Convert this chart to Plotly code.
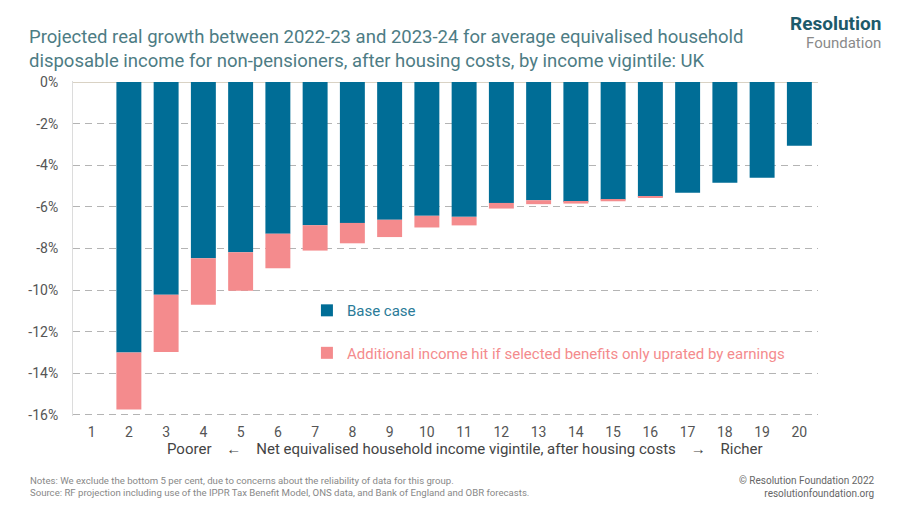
import plotly.graph_objects as go

# vigintiles 1-20 (bottom 5% excluded)
vigintiles = [str(i) for i in range(1, 21)]
base_case = [None, -13.0, -10.22, -8.47, -8.18, -7.29, -6.88, -6.77, -6.62, -6.43,
             -6.48, -5.81, -5.68, -5.76, -5.65, -5.52, -5.32, -4.84, -4.6, -3.06]
extra_hit = [None, -2.74, -2.76, -2.23, -1.85, -1.66, -1.22, -0.98, -0.83, -0.56,
             -0.41, -0.27, -0.19, -0.08, -0.08, -0.04, 0, 0, 0, 0]
y_ticks = [0, -2, -4, -6, -8, -10, -12, -14, -16]
y_labels = [f"{t}%" for t in y_ticks]

BLUE = "#006d96"
PINK = "#f48b8d"
FONT = "Roboto"
SP = "\u00a0" * 4

fig = go.Figure()
fig.add_trace(go.Bar(
    x=vigintiles, y=base_case, name="Base case",
    marker=dict(color=BLUE, line=dict(width=0)),
    legendgroup="a",
))
fig.add_trace(go.Bar(
    x=vigintiles, y=extra_hit,
    name=f"<span style='color:{PINK}'>Additional income hit if selected benefits only uprated by earnings</span>",
    marker=dict(color=PINK, line=dict(width=0)),
    legendgroup="b",
))

# page body has an 8px margin, so the figure is 8px smaller than the window
fig.update_layout(
    width=892, height=498,
    barmode="relative", bargap=0.33,
    plot_bgcolor="white", paper_bgcolor="white",
    margin=dict(l=65, r=82, t=73, b=90),
    font=dict(family=FONT, color="#555555", size=14),
    showlegend=True,
    legend=dict(
        x=0.314, y=0.252, xanchor="left", yanchor="middle",
        bgcolor="rgba(0,0,0,0)", tracegroupgap=20,
        font=dict(size=15, color="#2a7b98", family=FONT),
        itemwidth=30,
    ),
    xaxis=dict(
        showgrid=False, zeroline=False, showline=False,
        ticks="", ticklabelstandoff=6,
        tickfont=dict(size=14, color="#555555"),
    ),
    yaxis=dict(
        range=[-16.05, 0.05], tickvals=y_ticks, ticktext=y_labels,
        showgrid=True, gridcolor="#b4b4b4", griddash="7px,5px", gridwidth=1,
        zeroline=True, zerolinecolor="#d9d2c4", zerolinewidth=1,
        showline=True, linecolor="#dcdcdc", linewidth=1,
        ticks="", ticklabelstandoff=11,
        tickfont=dict(size=14, color="#555555"),
    ),
)

title = ("Projected real growth between 2022-23 and 2023-24 for average equivalised household<br>"
         "disposable income for non-pensioners, after housing costs, by income vigintile: UK")
fig.add_annotation(
    text=title, xref="paper", yref="paper", x=-0.0617, y=1.0, yshift=57,
    xanchor="left", yanchor="top", align="left", showarrow=False,
    font=dict(family=FONT, size=18.5, color="#4d7c84"),
)
fig.add_annotation(
    text="<b>Resolution</b>", xref="paper", yref="paper", x=1.086, y=1.0, yshift=70,
    xanchor="right", yanchor="top", showarrow=False, borderpad=0,
    font=dict(family=FONT, size=19, color="#1d5a6a"),
)
fig.add_annotation(
    text="Foundation", xref="paper", yref="paper", x=1.086, y=1.0, yshift=48,
    xanchor="right", yanchor="top", showarrow=False, borderpad=0,
    font=dict(family=FONT, size=15, color="#8a8a8a"),
)
fig.add_annotation(
    text=f"Poorer{SP}\u2190{SP}Net equivalised household income vigintile, after housing costs{SP}\u2192{SP}Richer",
    xref="paper", yref="paper", x=0.526, y=0, yshift=-22,
    xanchor="center", yanchor="top", showarrow=False,
    font=dict(family=FONT, size=15, color="#444444"),
)
fig.add_annotation(
    text=("Notes: We exclude the bottom 5 per cent, due to concerns about the reliability of data for this group.<br>"
          "Source: RF projection including use of the IPPR Tax Benefit Model, ONS data, and Bank of England and OBR forecasts."),
    xref="paper", yref="paper", x=-0.0604, y=0, yshift=-57,
    xanchor="left", yanchor="top", align="left", showarrow=False,
    font=dict(family=FONT, size=9.6, color="#888888"),
)
fig.add_annotation(
    text="\u00a9 Resolution Foundation 2022<br>resolutionfoundation.org",
    xref="paper", yref="paper", x=1.079, y=0, yshift=-57,
    xanchor="right", yanchor="top", align="right", showarrow=False,
    font=dict(family=FONT, size=10, color="#666666"),
)

fig.write_html("out.html")
